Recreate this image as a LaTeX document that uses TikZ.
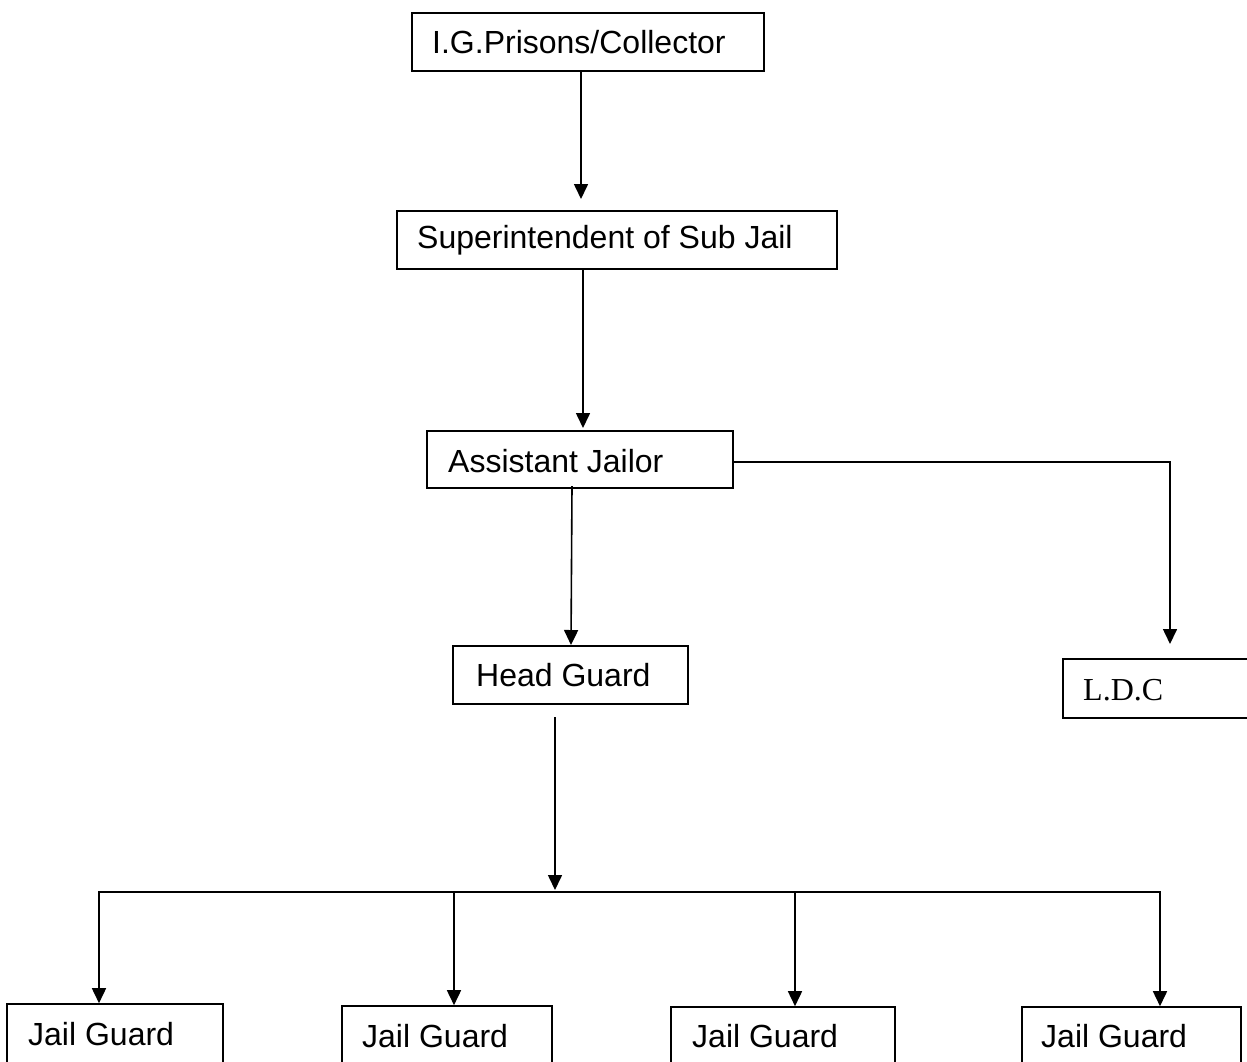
\documentclass[tikz,border=0pt]{standalone}
\usepackage{fontspec}
\setmainfont{Liberation Sans}
\newfontfamily\serifface{Liberation Serif}
\usetikzlibrary{arrows.meta}
\begin{document}
\begin{tikzpicture}[x=1pt,y=-1pt,
  box/.style={draw, line width=1.6pt, inner sep=0pt, rectangle},
  lbl/.style={anchor=base west, inner sep=0pt, font=\fontsize{32}{38}\selectfont},
  conn/.style={line width=1.6pt},
  arr/.style={conn, -{Triangle[width=14pt,length=15pt]}}]
\useasboundingbox (0,0) rectangle (1247,1061);
\clip (0,0) rectangle (1247,1061);
% boxes
\node[box, minimum width=352pt, minimum height=58pt] (ig) at (588,42) {};
\node[box, minimum width=440pt, minimum height=58pt] (sup) at (617,240) {};
\node[box, minimum width=306pt, minimum height=57pt] (asst) at (580,459.5) {};
\node[box, minimum width=235pt, minimum height=58pt] (head) at (570.5,675) {};
\node[box, minimum width=237pt, minimum height=59pt] (ldc) at (1181.5,688.5) {};
\node[box, minimum width=216pt, minimum height=70pt] (jg1) at (115,1039) {};
\node[box, minimum width=210pt, minimum height=70pt] (jg2) at (447,1041) {};
\node[box, minimum width=224pt, minimum height=70pt] (jg3) at (783,1042) {};
\node[box, minimum width=219pt, minimum height=70pt] (jg4) at (1131.5,1042) {};
% labels
\node[lbl] (tig) at (432,53) {I.G.Prisons/Collector};
\node[lbl] (tsup) at (417,248) {Superintendent of Sub Jail};
\node[lbl] (tasst) at (448,472) {Assistant Jailor};
\node[lbl] (thead) at (476,686) {Head Guard};
\node[lbl, font=\fontsize{32}{38}\selectfont\serifface] (tldc) at (1083,700) {L.D.C};
\node[lbl] (tjg1) at (28,1045) {Jail Guard};
\node[lbl] (tjg2) at (362,1047) {Jail Guard};
\node[lbl] (tjg3) at (692,1047) {Jail Guard};
\node[lbl] (tjg4) at (1041,1047) {Jail Guard};
% helper coordinates
\coordinate (c1) at (581,199);
\coordinate (c2) at (583,428);
\coordinate (c3s) at (572,486);
\coordinate (c3) at (571,645);
\coordinate (c4) at (1170,462);
\coordinate (c4t) at (1170,644);
\coordinate (c5s) at (555,717);
\coordinate (c5) at (555,890);
\coordinate (bl) at (99,892);
\coordinate (br) at (1160,892);
\coordinate (b2) at (454,892);
\coordinate (b3) at (795,892);
% connectors
\draw[arr] (ig.south -| c1) -- (c1);
\draw[arr] (sup.south -| c2) -- (c2);
\draw[arr] (c3s) -- (c3);
\draw[arr] (asst.east |- c4) -- (c4) -- (c4t);
\draw[arr] (c5s) -- (c5);
\draw[arr] (br) -- (bl) -- (bl |- jg1.north);
\draw[arr] (bl) -- (br) -- (br |- jg4.north);
\draw[arr] (b2) -- (b2 |- jg2.north);
\draw[arr] (b3) -- (b3 |- jg3.north);
\end{tikzpicture}
\end{document}
